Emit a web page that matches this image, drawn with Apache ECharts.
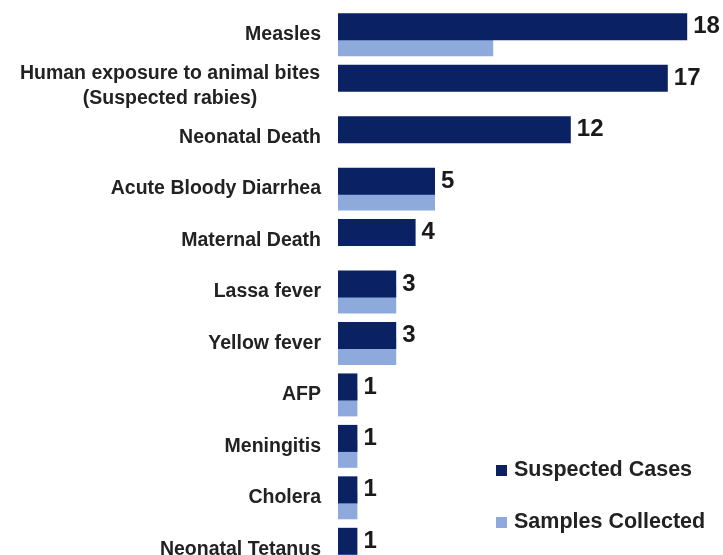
<!DOCTYPE html>
<html>
<head>
<meta charset="utf-8">
<script src="https://cdn.jsdelivr.net/npm/echarts@6/dist/echarts.min.js"></script>
<style>
  html, body { margin: 0; padding: 0; background: #fff; }
  #chart { width: 723px; height: 555px; }
</style>
</head>
<body>
<div id="chart"></div>
<script>
// Reported events, listed from top to bottom
const categories = [
  'Measles',
  'Human exposure to animal bites\n(Suspected rabies)',
  'Neonatal Death',
  'Acute Bloody Diarrhea',
  'Maternal Death',
  'Lassa fever',
  'Yellow fever',
  'AFP',
  'Meningitis',
  'Cholera',
  'Neonatal Tetanus'
];
const suspectedCases = [18, 17, 12, 5, 4, 3, 3, 1, 1, 1, 1];
const samplesCollected = [8, 0, 0, 5, 0, 3, 3, 1, 1, 1, 0];

const DARK = '#0a2264';
const LIGHT = '#8ea9db';
const FONT = '"Liberation Sans", Arial, sans-serif';

const chart = echarts.init(document.getElementById('chart'));
chart.setOption({
  backgroundColor: '#ffffff',
  animation: false,
  grid: { left: 338, width: 388, top: 9, height: 566, outerBoundsMode: 'none' },
  legend: {
    orient: 'vertical',
    left: 491,
    top: 454,
    itemWidth: 11,
    itemHeight: 11,
    itemGap: 29,
    icon: 'rect',
    data: ['Suspected Cases', 'Samples Collected'],
    textStyle: {
      fontFamily: FONT, fontSize: 21.5, fontWeight: 'bold', color: '#222',
      lineHeight: 23, padding: [0, 0, 0, 2]
    }
  },
  xAxis: { type: 'value', min: 0, max: 20, show: false },
  yAxis: {
    type: 'category',
    inverse: true,
    data: categories,
    axisLine: { show: false },
    axisTick: { show: false },
    axisLabel: {
      margin: 17,
      fontFamily: FONT, fontSize: 19.5, fontWeight: 'bold', color: '#222',
      lineHeight: 25,
      formatter: function (v) {
        if (v.indexOf('\n') < 0) return v;
        return v.split('\n').map(function (s) { return '{c|' + s + '}'; }).join('\n');
      },
      rich: {
        c: {
          width: 302, align: 'center',
          fontFamily: FONT, fontSize: 19.5, fontWeight: 'bold', color: '#222', lineHeight: 25
        }
      }
    }
  },
  series: [
    {
      name: 'Suspected Cases',
      type: 'bar',
      data: suspectedCases,
      barWidth: 27,
      barGap: '-41%',
      z: 3,
      itemStyle: { color: DARK },
      label: {
        show: true, position: 'right', distance: 6,
        fontFamily: FONT, fontSize: 24, fontWeight: 'bold', color: '#1a1a1a'
      }
    },
    {
      name: 'Samples Collected',
      type: 'bar',
      data: samplesCollected,
      barWidth: 27,
      z: 2,
      itemStyle: { color: LIGHT }
    }
  ]
});
</script>
</body>
</html>
